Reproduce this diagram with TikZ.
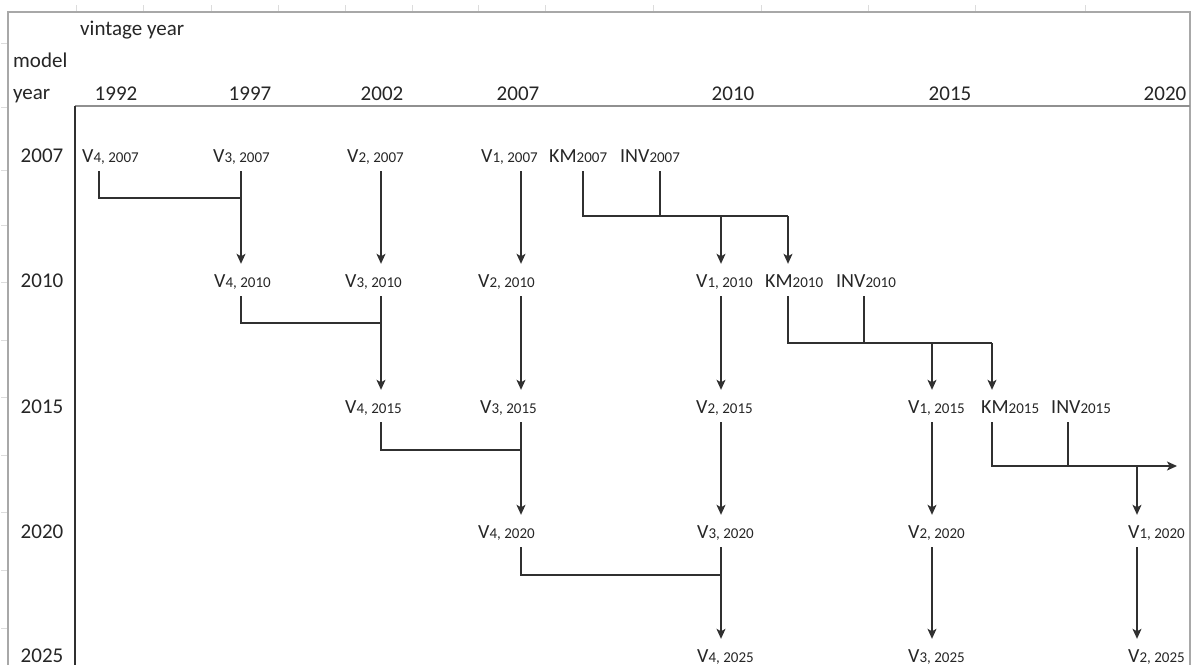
\documentclass[tikz,border=0pt]{standalone}
\usepackage{fontspec}
\setmainfont{Carlito}
\usetikzlibrary{arrows.meta,calc}
\definecolor{txt}{HTML}{262626}
\definecolor{ln}{HTML}{303030}
\definecolor{frm}{HTML}{A8A8A8}
\definecolor{frm2}{HTML}{909090}
\definecolor{tick}{HTML}{DCDCDC}
\newcommand{\xhdr}{\fontsize{21}{25}\selectfont}
\newcommand{\xbig}{\fontsize{20}{24}\selectfont}
\newcommand{\xsm}{\fontsize{15}{18}\selectfont}
\newcommand{\vlab}[2]{{\xbig V}{\xsm #1, #2}}
\newcommand{\klab}[2]{{\xbig #1}{\xsm #2}}
\tikzset{
  lab/.style={anchor=base west, inner sep=0pt, text=txt, font=\xbig, text height=13pt, text depth=3pt},
  hdr/.style={anchor=base, inner sep=0pt, text=txt, font=\xhdr},
  hdrw/.style={anchor=base west, inner sep=0pt, text=txt, font=\xhdr},
  conn/.style={draw=ln, line width=1.3pt, shorten <=6pt},
  arr/.style={conn, shorten >=10pt, -{Stealth[length=10pt,width=9pt,inset=2.5pt]}},
  frame/.style={draw=frm, line width=1.5pt},
  tk/.style={draw=tick, line width=1pt}
}
\begin{document}
\begin{tikzpicture}[x=1pt,y=-1pt]
\useasboundingbox (0,0) rectangle (1192,665);
\fill[white] (0,0) rectangle (1192,665);
% spreadsheet ticks
\foreach \t in {76,143,211,278,345,412,478,545,653,761,868,975,1085}
  \draw[tk] (\t,5) -- (\t,12);
\foreach \t in {43,107,170,225,282,340,397,455,512,570,628}
  \draw[tk] (1,\t) -- (8,\t);
% frames
\draw[frame] (8,665) -- (8,12) -- (1190,12) -- (1190,665);
\draw[draw=frm2, line width=1.5pt] (75,106) -- (1190,106);
\draw[draw=ln, line width=1.2pt] (75,106) -- (75,665);
% headers
\node[hdrw] (vy) at (80,35) {vintage year};
\node[hdrw] (mdl) at (13,67) {model};
\node[hdrw] (yr) at (13,99) {year};
\node[hdr] (c1) at (116,100) {1992};
\node[hdr] (c2) at (250,100) {1997};
\node[hdr] (c3) at (382,100) {2002};
\node[hdr] (c4) at (518,100) {2007};
\node[hdr] (c5) at (733,100) {2010};
\node[hdr] (c6) at (950,100) {2015};
\node[hdr] (c7) at (1165,100) {2020};
\node[hdr] (r1) at (42,162) {2007};
\node[hdr] (r2) at (42,287) {2010};
\node[hdr] (r3) at (42,413) {2015};
\node[hdr] (r4) at (42,538) {2020};
\node[hdr] (r5) at (42,662) {2025};
% line columns
\coordinate (L1) at (99,0);
\coordinate (L2) at (241,0);
\coordinate (L3) at (381,0);
\coordinate (L4) at (521,0);
\coordinate (L5) at (583,0);
\coordinate (L6) at (660,0);
\coordinate (L7) at (721,0);
\coordinate (L8) at (788,0);
\coordinate (L9) at (864,0);
\coordinate (L10) at (932,0);
\coordinate (L11) at (992,0);
\coordinate (L12) at (1068,0);
\coordinate (L13) at (1137,0);
% row 2007
\node[lab] (v4a) at (82,162) {\vlab{4}{2007}};
\node[lab] (v3a) at (213,162) {\vlab{3}{2007}};
\node[lab] (v2a) at (347,162) {\vlab{2}{2007}};
\node[lab] (v1a) at (481,162) {\vlab{1}{2007}};
\node[lab] (kma) at (549,162) {\klab{KM}{2007}};
\node[lab] (inva) at (620,162) {\klab{INV}{2007}};
% row 2010
\node[lab] (v4b) at (214,287) {\vlab{4}{2010}};
\node[lab] (v3b) at (345,287) {\vlab{3}{2010}};
\node[lab] (v2b) at (478,287) {\vlab{2}{2010}};
\node[lab] (v1b) at (696,287) {\vlab{1}{2010}};
\node[lab] (kmb) at (765,287) {\klab{KM}{2010}};
\node[lab] (invb) at (836,287) {\klab{INV}{2010}};
% row 2015
\node[lab] (v4c) at (345,413) {\vlab{4}{2015}};
\node[lab] (v3c) at (480,413) {\vlab{3}{2015}};
\node[lab] (v2c) at (696,413) {\vlab{2}{2015}};
\node[lab] (v1c) at (908,413) {\vlab{1}{2015}};
\node[lab] (kmc) at (981,413) {\klab{KM}{2015}};
\node[lab] (invc) at (1051,413) {\klab{INV}{2015}};
% row 2020
\node[lab] (v4d) at (478,538) {\vlab{4}{2020}};
\node[lab] (v3d) at (697,538) {\vlab{3}{2020}};
\node[lab] (v2d) at (908,538) {\vlab{2}{2020}};
\node[lab] (v1d) at (1128,538) {\vlab{1}{2020}};
% row 2025
\node[lab] (v4e) at (697,662) {\vlab{4}{2025}};
\node[lab] (v3e) at (908,662) {\vlab{3}{2025}};
\node[lab] (v2e) at (1128,662) {\vlab{2}{2025}};
% junctions
\coordinate (jA) at (241,198);
\coordinate (jB) at (381,323);
\coordinate (jC) at (521,450);
\coordinate (jD) at (721,575);
\coordinate (kA0) at (721,216);
\coordinate (kA1) at (660,216);
\coordinate (kA2) at (788,216);
\coordinate (kB0) at (932,343);
\coordinate (kB1) at (864,343);
\coordinate (kB2) at (992,343);
\coordinate (kC0) at (1137,466);
\coordinate (kC1) at (1068,466);
\coordinate (kC3) at (1177,466);
% 2007 -> 2010
\draw[conn] (v4a.south -| L1) |- (jA);
\draw[arr] (v3a.south -| L2) -- (v4b.north -| L2);
\draw[arr] (v2a.south -| L3) -- (v3b.north -| L3);
\draw[arr] (v1a.south -| L4) -- (v2b.north -| L4);
\draw[conn] (kma.south -| L5) |- (kA2);
\draw[conn] (inva.south -| L6) -- (kA1);
\draw[arr, shorten <=0pt] (kA0) -- (v1b.north -| L7);
\draw[arr, shorten <=0pt] (kA2) -- (kmb.north -| L8);
% 2010 -> 2015
\draw[conn] (v4b.south -| L2) |- (jB);
\draw[arr] (v3b.south -| L3) -- (v4c.north -| L3);
\draw[arr] (v2b.south -| L4) -- (v3c.north -| L4);
\draw[arr] (v1b.south -| L7) -- (v2c.north -| L7);
\draw[conn] (kmb.south -| L8) |- (kB2);
\draw[conn] (invb.south -| L9) -- (kB1);
\draw[arr, shorten <=0pt] (kB0) -- (v1c.north -| L10);
\draw[arr, shorten <=0pt] (kB2) -- (kmc.north -| L11);
% 2015 -> 2020
\draw[conn] (v4c.south -| L3) |- (jC);
\draw[arr] (v3c.south -| L4) -- (v4d.north -| L4);
\draw[arr] (v2c.south -| L7) -- (v3d.north -| L7);
\draw[arr] (v1c.south -| L10) -- (v2d.north -| L10);
\draw[arr, shorten >=0pt] (kmc.south -| L11) |- (kC3);
\draw[conn] (invc.south -| L12) -- (kC1);
\draw[arr, shorten <=0pt] (kC0) -- (v1d.north -| L13);
% 2020 -> 2025
\draw[conn] (v4d.south -| L4) |- (jD);
\draw[arr] (v3d.south -| L7) -- (v4e.north -| L7);
\draw[arr] (v2d.south -| L10) -- (v3e.north -| L10);
\draw[arr] (v1d.south -| L13) -- (v2e.north -| L13);
\end{tikzpicture}
\end{document}
